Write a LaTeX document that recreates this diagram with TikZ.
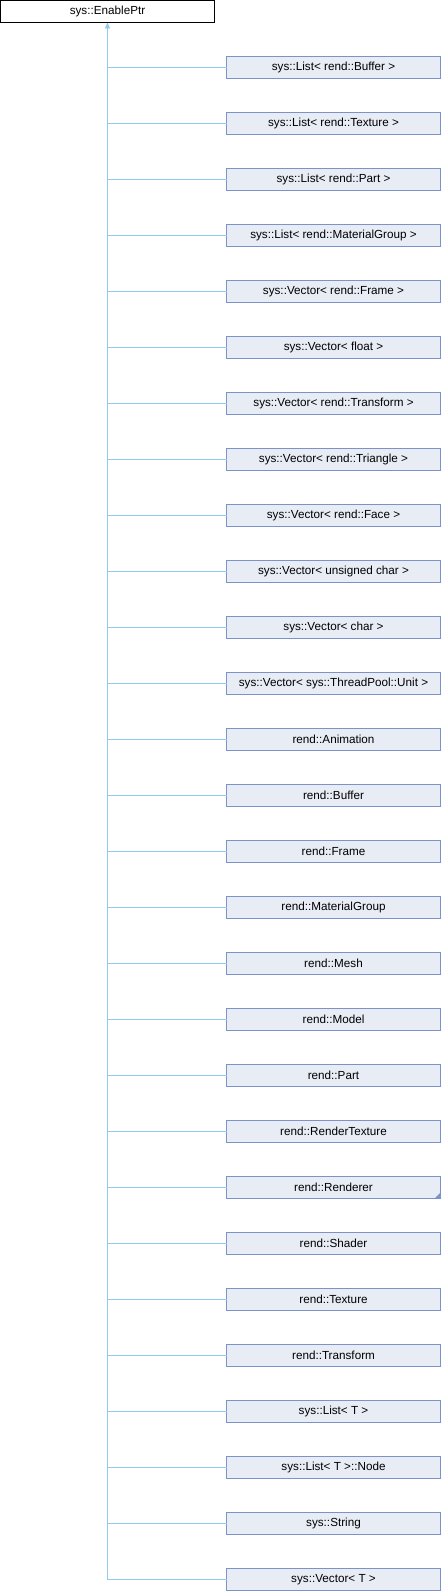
\documentclass[tikz,border=0pt]{standalone}
\usepackage{fontspec}
\setmainfont{Liberation Sans}
\usepackage{tikz}
\usetikzlibrary{positioning, arrows.meta}

\definecolor{boxfill}{HTML}{E8ECF5}
\definecolor{boxline}{HTML}{7B93C9}
\definecolor{edgeline}{HTML}{92CAEE}

\tikzset{
    basebox/.style={draw=black, fill=white, line width=0.8pt, outer sep=0pt, minimum width=214pt, minimum height=22pt, inner sep=0pt, font=\fontsize{11.7}{13}\selectfont},
    classbox/.style={draw=boxline, fill=boxfill, line width=0.8pt, outer sep=0pt, minimum width=214pt, minimum height=22pt, inner sep=0pt, font=\fontsize{11.7}{13}\selectfont},
    edge/.style={draw=edgeline, line width=0.8pt}
}

\begin{document}
\begin{tikzpicture}[x=1pt, y=1pt, node distance=34pt]
    \useasboundingbox (0,0) rectangle (442,-1592);
    \node[basebox, anchor=north west] (enableptr) at (0.5,-0.5) {sys::EnablePtr};
    \node[classbox, anchor=north west] (list_buffer) at (226.5,-56.5) {sys::List< rend::Buffer >};
    \node[classbox, below=of list_buffer] (list_texture) {sys::List< rend::Texture >};
    \node[classbox, below=of list_texture] (list_part) {sys::List< rend::Part >};
    \node[classbox, below=of list_part] (list_matgroup) {sys::List< rend::MaterialGroup >};
    \node[classbox, below=of list_matgroup] (vec_frame) {sys::Vector< rend::Frame >};
    \node[classbox, below=of vec_frame] (vec_float) {sys::Vector< float >};
    \node[classbox, below=of vec_float] (vec_transform) {sys::Vector< rend::Transform >};
    \node[classbox, below=of vec_transform] (vec_triangle) {sys::Vector< rend::Triangle >};
    \node[classbox, below=of vec_triangle] (vec_face) {sys::Vector< rend::Face >};
    \node[classbox, below=of vec_face] (vec_uchar) {sys::Vector< unsigned char >};
    \node[classbox, below=of vec_uchar] (vec_char) {sys::Vector< char >};
    \node[classbox, below=of vec_char] (vec_unit) {sys::Vector< sys::ThreadPool::Unit >};
    \node[classbox, below=of vec_unit] (animation) {rend::Animation};
    \node[classbox, below=of animation] (buffer) {rend::Buffer};
    \node[classbox, below=of buffer] (frame) {rend::Frame};
    \node[classbox, below=of frame] (matgroup) {rend::MaterialGroup};
    \node[classbox, below=of matgroup] (mesh) {rend::Mesh};
    \node[classbox, below=of mesh] (model) {rend::Model};
    \node[classbox, below=of model] (part) {rend::Part};
    \node[classbox, below=of part] (rendertexture) {rend::RenderTexture};
    \node[classbox, below=of rendertexture] (renderer) {rend::Renderer};
    \node[classbox, below=of renderer] (shader) {rend::Shader};
    \node[classbox, below=of shader] (texture) {rend::Texture};
    \node[classbox, below=of texture] (transform) {rend::Transform};
    \node[classbox, below=of transform] (list_t) {sys::List< T >};
    \node[classbox, below=of list_t] (list_node) {sys::List< T >::Node};
    \node[classbox, below=of list_node] (string) {sys::String};
    \node[classbox, below=of string] (vec_t) {sys::Vector< T >};
    % more children
    \fill[boxline] (renderer.south east) -- ++(-6,0) -- ++(6,6) -- cycle;

    \draw[edge, -{Triangle[width=5pt, length=6pt, fill=edgeline]}] (vec_t.west -| enableptr.south) -- (enableptr.south);
    \draw[edge] (list_buffer.west) -- (list_buffer.west -| enableptr.south);
    \draw[edge] (list_texture.west) -- (list_texture.west -| enableptr.south);
    \draw[edge] (list_part.west) -- (list_part.west -| enableptr.south);
    \draw[edge] (list_matgroup.west) -- (list_matgroup.west -| enableptr.south);
    \draw[edge] (vec_frame.west) -- (vec_frame.west -| enableptr.south);
    \draw[edge] (vec_float.west) -- (vec_float.west -| enableptr.south);
    \draw[edge] (vec_transform.west) -- (vec_transform.west -| enableptr.south);
    \draw[edge] (vec_triangle.west) -- (vec_triangle.west -| enableptr.south);
    \draw[edge] (vec_face.west) -- (vec_face.west -| enableptr.south);
    \draw[edge] (vec_uchar.west) -- (vec_uchar.west -| enableptr.south);
    \draw[edge] (vec_char.west) -- (vec_char.west -| enableptr.south);
    \draw[edge] (vec_unit.west) -- (vec_unit.west -| enableptr.south);
    \draw[edge] (animation.west) -- (animation.west -| enableptr.south);
    \draw[edge] (buffer.west) -- (buffer.west -| enableptr.south);
    \draw[edge] (frame.west) -- (frame.west -| enableptr.south);
    \draw[edge] (matgroup.west) -- (matgroup.west -| enableptr.south);
    \draw[edge] (mesh.west) -- (mesh.west -| enableptr.south);
    \draw[edge] (model.west) -- (model.west -| enableptr.south);
    \draw[edge] (part.west) -- (part.west -| enableptr.south);
    \draw[edge] (rendertexture.west) -- (rendertexture.west -| enableptr.south);
    \draw[edge] (renderer.west) -- (renderer.west -| enableptr.south);
    \draw[edge] (shader.west) -- (shader.west -| enableptr.south);
    \draw[edge] (texture.west) -- (texture.west -| enableptr.south);
    \draw[edge] (transform.west) -- (transform.west -| enableptr.south);
    \draw[edge] (list_t.west) -- (list_t.west -| enableptr.south);
    \draw[edge] (list_node.west) -- (list_node.west -| enableptr.south);
    \draw[edge] (string.west) -- (string.west -| enableptr.south);
    \draw[edge] (vec_t.west) -- (vec_t.west -| enableptr.south);
\end{tikzpicture}
\end{document}
